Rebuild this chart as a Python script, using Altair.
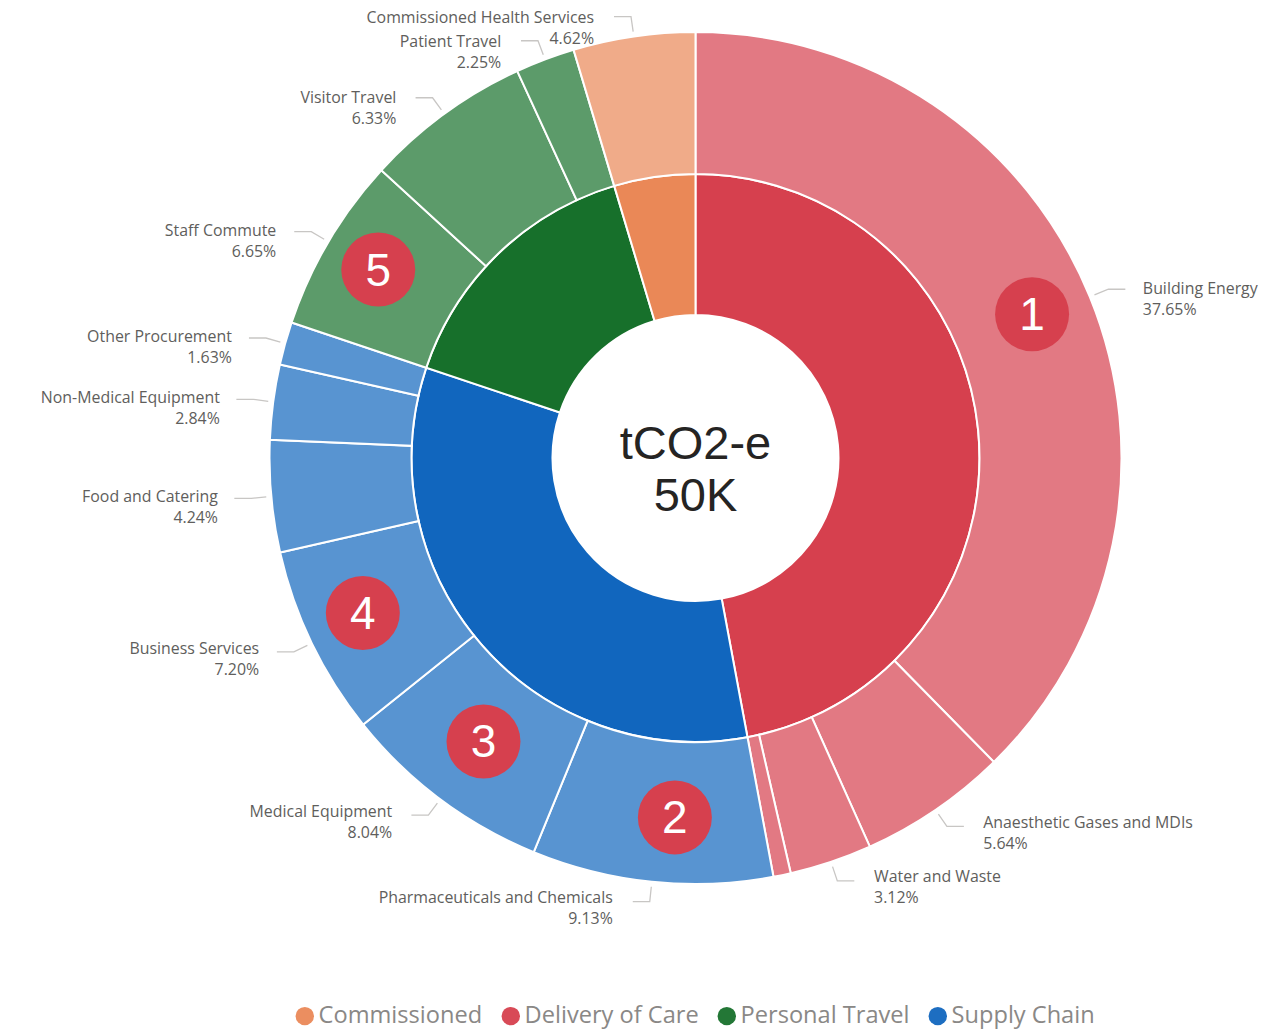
import math
import altair as alt
import pandas as pd

# ---- data ----
groups = ["Commissioned", "Delivery of Care", "Personal Travel", "Supply Chain"]
group_colors = ["#EA8857", "#D6404E", "#17702B", "#1166BE"]

outer_names = ["Building Energy", "Anaesthetic Gases and MDIs", "Water and Waste", "",
               "Pharmaceuticals and Chemicals", "Medical Equipment", "Business Services",
               "Food and Catering", "Non-Medical Equipment", "Other Procurement",
               "Staff Commute", "Visitor Travel", "Patient Travel",
               "Commissioned Health Services"]
outer_values = [37.65, 5.64, 3.12, 0.66, 9.13, 8.04, 7.20, 4.24, 2.84, 1.63, 6.65, 6.33, 2.25, 4.62]
outer_groups = ["Delivery of Care"] * 4 + ["Supply Chain"] * 6 + ["Personal Travel"] * 3 + ["Commissioned"]

inner_groups = ["Delivery of Care", "Supply Chain", "Personal Travel", "Commissioned"]
inner_values = [47.07, 33.08, 15.23, 4.62]

badge_slices = ["Building Energy", "Pharmaceuticals and Chemicals", "Medical Equipment",
                "Business Services", "Staff Commute"]
badge_numbers = ["1", "2", "3", "4", "5"]
center_lines = ["tCO2-e", "50K"]

# ---- layout ----
CX, CY = 687.5, 450
R_HOLE, R_MID, R_OUT = 143, 284, 426
R_TIP, R_ELBOW = 431, 446
STUB, GAP = 17, 16
badge_radius = [366, 360, 354, 367, 369]
badge_nudge = [-0.9, -2.6, 0.0, 0.8, 0.2]
TEXT_GREY = "#605E5C"
LEADER_GREY = "#C8C6C4"


def polar(radius, deg):
    a = math.radians(deg)
    return CX + radius * math.sin(a), CY - radius * math.cos(a)


total = sum(outer_values)
mids = {}
run = 0.0
for n, v in zip(outer_names, outer_values):
    mids[n] = (run + v / 2) / total * 360
    run += v

outer = pd.DataFrame({"name": outer_names, "value": outer_values, "group": outer_groups,
                      "idx": range(len(outer_names))})
inner = pd.DataFrame({"group": inner_groups, "value": inner_values, "idx": range(len(inner_groups))})

label_rows, leader_rows = [], []
for n, v in zip(outer_names, outer_values):
    if not n:
        continue
    deg = mids[n]
    side = 1 if deg < 180 else -1
    c = math.cos(math.radians(deg))
    ex, ey = polar(R_ELBOW, deg)
    tx, ty = polar(R_TIP, deg)
    lx = ex + side * STUB
    label_rows.append({"x": lx + side * (GAP + 4 * abs(c)), "y": ey - 9.5 + 2.5 * c,
                       "txt": f"{n}\n{v:.2f}%", "side": side})
    for i, (qx, qy) in enumerate([(lx, ey), (ex, ey), (tx, ty)]):
        leader_rows.append({"x": qx, "y": qy, "name": n, "i": i})
labels = pd.DataFrame(label_rows)
leaders = pd.DataFrame(leader_rows)

badge_rows = []
for s, num, r, nudge in zip(badge_slices, badge_numbers, badge_radius, badge_nudge):
    bx, by = polar(r, mids[s] + nudge)
    badge_rows.append({"x": bx, "y": by, "num": num})
badges = pd.DataFrame(badge_rows)

center = pd.DataFrame({"x": [CX, CX], "y": [CY - 13, CY + 39], "txt": center_lines})

color = alt.Color("group:N",
                  scale=alt.Scale(domain=groups, range=group_colors),
                  legend=alt.Legend(orient="none", legendX=285, legendY=996, direction="horizontal",
                                    columns=4, title=None, symbolType="circle", symbolSize=340,
                                    symbolStrokeWidth=0, symbolOpacity=0.95,
                                    labelFont="Open Sans", labelFontSize=23.6, labelColor="#8A8886",
                                    labelOffset=2, columnPadding=16, symbolOffset=0,
                                    labelLimit=300))
px = alt.X("x:Q", scale=None, axis=None)
py = alt.Y("y:Q", scale=None, axis=None)

inner_arc = alt.Chart(inner).mark_arc(innerRadius=R_HOLE, outerRadius=R_MID, stroke="white",
                                      strokeWidth=2).encode(
    theta=alt.Theta("value:Q", stack=True), order=alt.Order("idx:Q"), color=color,
    x=alt.value(CX), y=alt.value(CY))
outer_arc = alt.Chart(outer).mark_arc(innerRadius=R_MID, outerRadius=R_OUT, stroke="white",
                                      strokeWidth=2, fillOpacity=0.7).encode(
    theta=alt.Theta("value:Q", stack=True), order=alt.Order("idx:Q"), color=color,
    x=alt.value(CX), y=alt.value(CY))
leader = alt.Chart(leaders).mark_line(color=LEADER_GREY, strokeWidth=1.3).encode(
    x=px, y=py, detail="name:N", order="i:Q")


def label_layer(side, align):
    return alt.Chart(labels[labels.side == side]).mark_text(
        align=align, baseline="top", font="Open Sans", fontSize=15.9, color=TEXT_GREY,
        lineBreak="\n", lineHeight=21).encode(x=px, y=py, text="txt:N")


badge_dot = alt.Chart(badges).mark_point(filled=True, size=5476, opacity=1, color="#D6404E",
                                         shape="circle").encode(x=px, y=py)
badge_txt = alt.Chart(badges).mark_text(font="Liberation Sans", fontSize=46, color="white",
                                        baseline="middle", align="center", dy=2).encode(
    x=px, y=py, text="num:N")
center_txt = alt.Chart(center).mark_text(font="Liberation Sans", fontSize=47, color="#252423",
                                         baseline="middle", align="center").encode(
    x=px, y=py, text="txt:N")

chart = alt.layer(inner_arc, outer_arc, leader, label_layer(1, "left"), label_layer(-1, "right"),
                  badge_dot, badge_txt, center_txt).properties(
    width=1265, height=1023, padding=0, autosize=alt.AutoSizeParams(type="none"),
    background="white"
).configure_view(stroke=None)

chart.save("out.html", embed_options={"renderer": "svg", "actions": False})
